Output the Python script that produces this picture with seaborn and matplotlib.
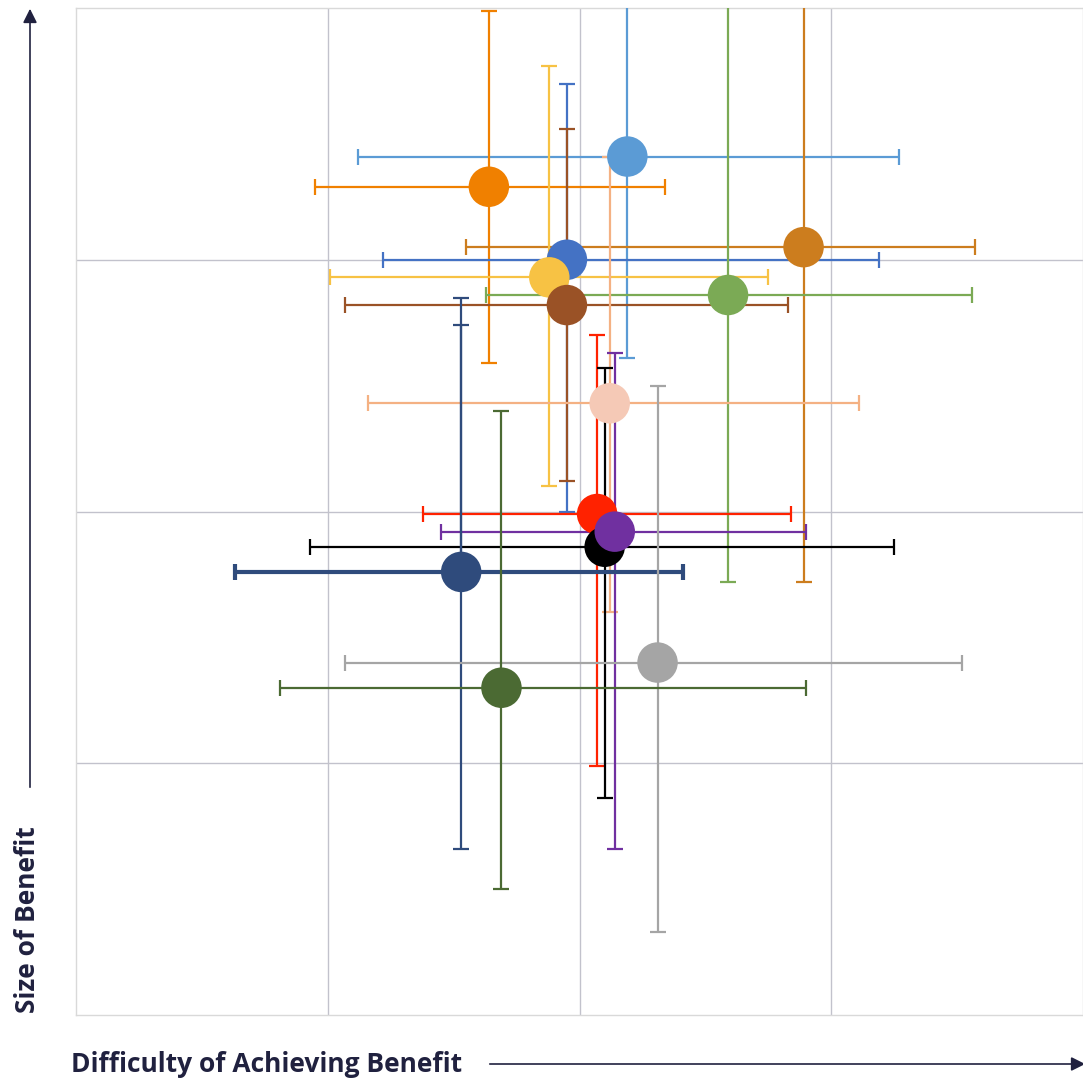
import seaborn as sns
import matplotlib.pyplot as plt
import pandas as pd

# benefit items: centre, lower/upper bounds of difficulty (x) and size (y)
names = ['light blue', 'orange', 'dark orange', 'blue', 'yellow', 'green', 'brown',
         'peach', 'red', 'black', 'purple', 'navy', 'gray', 'dark green']
colors = ['#5B9BD5', '#F08000', '#CC7D1E', '#4472C4', '#F7C244', '#7BAA55', '#9A5226',
          '#F4B183', '#FF2200', '#000000', '#7030A0', '#2F4B7C', '#A5A5A5', '#4B6A33']
marker_colors = ['#5B9BD5', '#F08000', '#CC7D1E', '#4472C4', '#F7C244', '#7BAA55', '#9A5226',
                 '#F5C9B6', '#FF2200', '#000000', '#7030A0', '#2F4B7C', '#A5A5A5', '#4B6A33']
x_mid = [2.19, 1.64, 2.89, 1.95, 1.88, 2.59, 1.95, 2.12, 2.07, 2.10, 2.14, 1.53, 2.31, 1.69]
x_low = [1.12, 0.95, 1.55, 1.22, 1.01, 1.63, 1.07, 1.16, 1.38, 0.93, 1.45, 0.63, 1.07, 0.81]
x_high = [3.27, 2.34, 3.57, 3.19, 2.75, 3.56, 2.83, 3.11, 2.84, 3.25, 2.90, 2.41, 3.52, 2.90]
y_mid = [3.41, 3.29, 3.05, 3.00, 2.93, 2.86, 2.82, 2.43, 1.99, 1.86, 1.92, 1.76, 1.40, 1.30]
y_low = [2.61, 2.59, 1.72, 2.00, 2.10, 1.72, 2.12, 1.60, 0.99, 0.86, 0.66, 0.66, 0.33, 0.50]
y_high = [4.30, 3.99, 4.40, 3.70, 3.77, 4.10, 3.52, 3.41, 2.70, 2.57, 2.63, 2.85, 2.50, 2.40]
navy_inner_top = 2.74

df = pd.DataFrame({'name': names, 'x': x_mid, 'y': y_mid})

sns.set_theme(style='white')
plt.rcParams['font.family'] = ['Open Sans', 'DejaVu Sans']

fig = plt.figure(figsize=(10.83, 10.79), dpi=100)
ax = fig.add_axes([76 / 1083, 1 - 1015 / 1079, 1 - 76 / 1083, 1007 / 1079])

for i in range(len(names)):
    lw_x = 3.0 if names[i] == 'navy' else 1.6
    ax.errorbar(x_mid[i], y_mid[i],
                yerr=[[y_mid[i] - y_low[i]], [y_high[i] - y_mid[i]]],
                fmt='none', ecolor=colors[i], elinewidth=1.6, capsize=6, capthick=1.6, zorder=3)
    ax.errorbar(x_mid[i], y_mid[i],
                xerr=[[x_mid[i] - x_low[i]], [x_high[i] - x_mid[i]]],
                fmt='none', ecolor=colors[i], elinewidth=lw_x, capsize=6,
                capthick=lw_x, zorder=3)
i = names.index('navy')
ax.errorbar(x_mid[i], y_mid[i], yerr=[[0], [navy_inner_top - y_mid[i]]],
            fmt='none', ecolor=colors[i], elinewidth=1.6, capsize=6, capthick=1.6, zorder=3)

sns.scatterplot(data=df, x='x', y='y', hue='name', palette=marker_colors,
                s=850, edgecolor='none', legend=False, ax=ax, zorder=4)

ax.set_xlim(0, 4)
ax.set_ylim(0, 4)
ax.set_xticks([1, 2, 3])
ax.set_yticks([1, 2, 3])
ax.set_xticklabels([])
ax.set_yticklabels([])
ax.tick_params(length=0)
ax.grid(True, color='#C2C2CC', linewidth=1)
ax.set_axisbelow(True)
ax.set_xlabel('')
ax.set_ylabel('')
for s in ax.spines.values():
    s.set_color('#D9D9D9')
    s.set_linewidth(1)

# axis arrows and labels
navy_txt = '#20213F'
ax.annotate('', xy=(30 / 1083, 1 - 6 / 1079), xytext=(30 / 1083, 1 - 790 / 1079),
            xycoords='figure fraction', textcoords='figure fraction',
            arrowprops=dict(arrowstyle='-|>,head_length=0.7,head_width=0.35',
                            color=navy_txt, lw=1.2), annotation_clip=False)
ax.annotate('', xy=(1088 / 1083, 1 - 1064 / 1079), xytext=(487 / 1083, 1 - 1064 / 1079),
            xycoords='figure fraction', textcoords='figure fraction',
            arrowprops=dict(arrowstyle='-|>,head_length=0.7,head_width=0.35',
                            color=navy_txt, lw=1.2), annotation_clip=False)
fig.text(28 / 1083, 1 - 920 / 1079, 'Size of Benefit', rotation=90, ha='center', va='center',
         fontsize=19, fontweight='bold', color=navy_txt)
fig.text(71 / 1083, 1 - 1064 / 1079, 'Difficulty of Achieving Benefit', ha='left', va='center',
         fontsize=19, fontweight='bold', color=navy_txt)

fig.savefig('out.png', dpi=100)
